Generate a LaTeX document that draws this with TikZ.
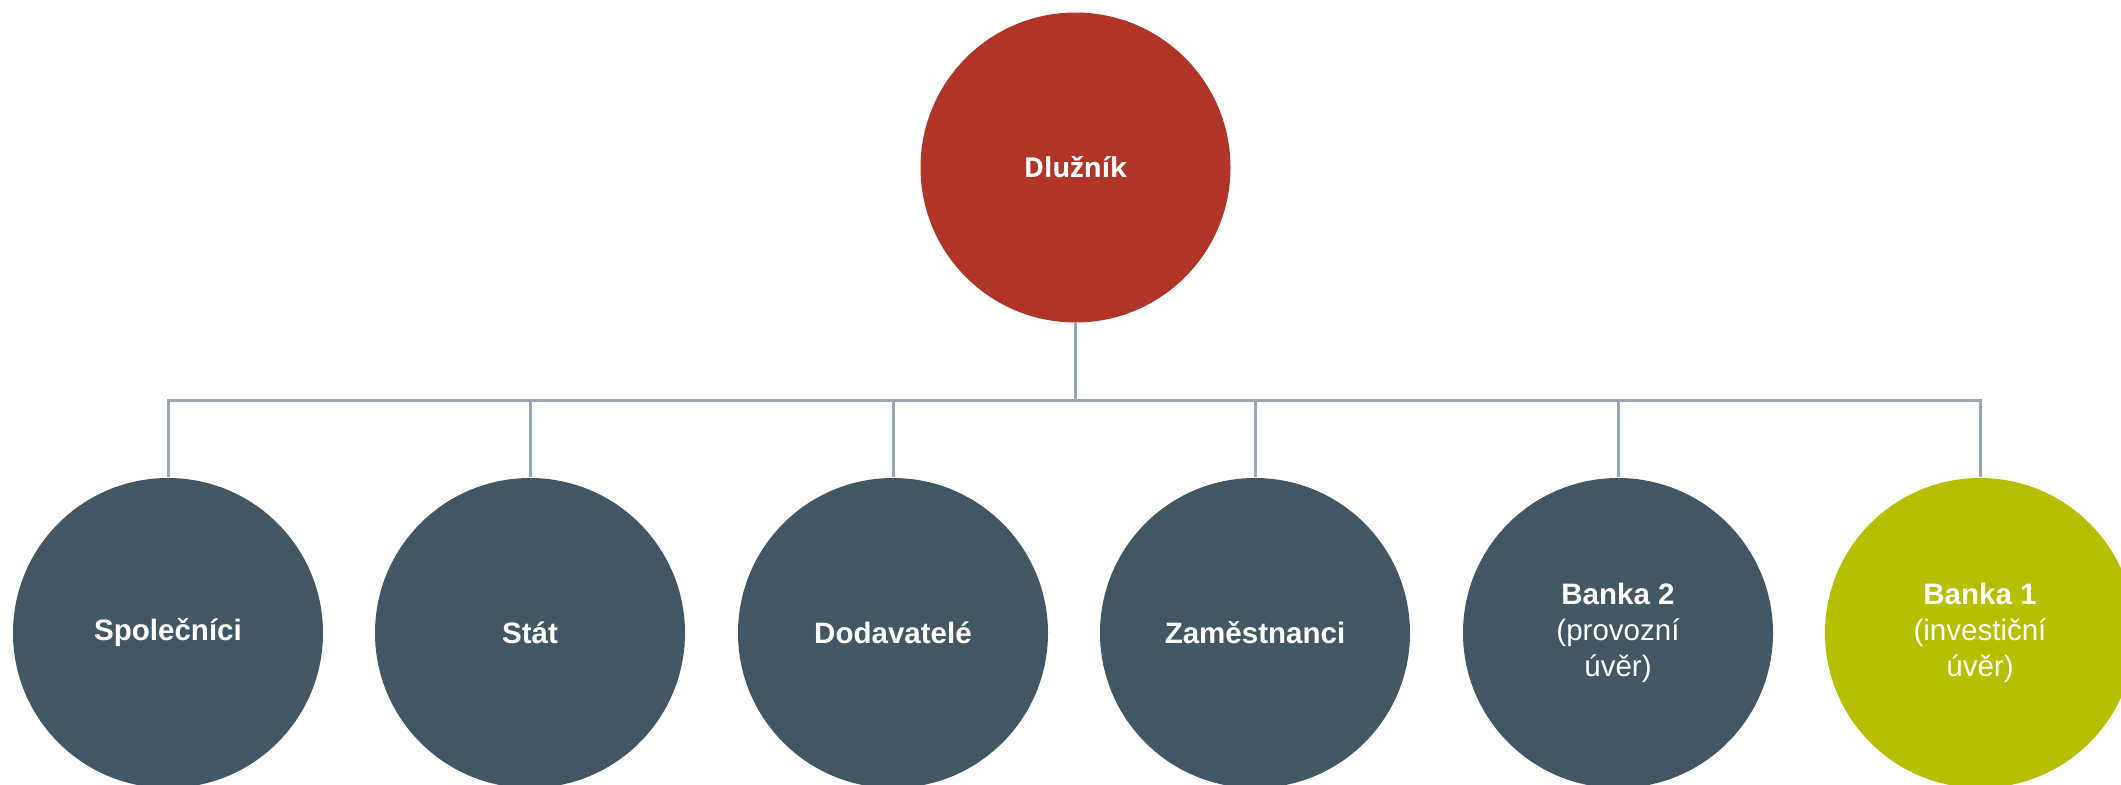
\documentclass[tikz,border=0pt]{standalone}
\usepackage{fontspec}
\setmainfont{Liberation Sans}
\newfontfamily\opensans{Open Sans}
\usepackage{tikz}

\definecolor{dluznikred}{HTML}{B03428}
\definecolor{slate}{HTML}{435663}
\definecolor{lime}{HTML}{B5BF00}
\definecolor{linegray}{HTML}{9BA6B2}

\tikzset{
  koule/.style={circle, draw=none, fill=slate, minimum size=3.1cm, inner sep=0pt,
    text=white, align=center, font=\fontsize{8.4pt}{10.3pt}\selectfont},
  spoj/.style={draw=linegray, line width=0.03cm}
}

\begin{document}
\begin{tikzpicture}
            				\useasboundingbox (0,0) rectangle (21.21,-7.85);
            				\clip (0,0) rectangle (21.21,-7.85);
            				\node[koule, fill=dluznikred, font=\opensans\bfseries\fontsize{7.8pt}{10.3pt}\selectfont] (dluznik) at (10.755,-1.675) {Dlužník};
            				\node[koule] (spolecnici) at (1.68,-6.33) {\textbf{Společníci}};
            				\node[koule] (stat) at (5.30,-6.33) {\textbf{Stát}};
            				\node[koule] (dodavatele) at (8.93,-6.33) {\textbf{Dodavatelé}};
            				\node[koule] (zamestnanci) at (12.55,-6.33) {\textbf{Zaměstnanci}};
            				\node[koule] (banka2) at (16.18,-6.33) {\textbf{Banka 2}\\(provozní\\úvěr)};
            				\node[koule, fill=lime] (banka1) at (19.80,-6.33) {\textbf{Banka 1}\\(investiční\\úvěr)};
            				\coordinate (sbernice) at (10.755,-4.0);
            				\draw[spoj] (dluznik.south) -- (sbernice);
            				\draw[spoj] (sbernice) -| (spolecnici.north);
            				\draw[spoj] (sbernice) -| (stat.north);
            				\draw[spoj] (sbernice) -| (dodavatele.north);
            				\draw[spoj] (sbernice) -| (zamestnanci.north);
            				\draw[spoj] (sbernice) -| (banka2.north);
            				\draw[spoj] (sbernice) -| (banka1.north);
            			\end{tikzpicture}
\end{document}
